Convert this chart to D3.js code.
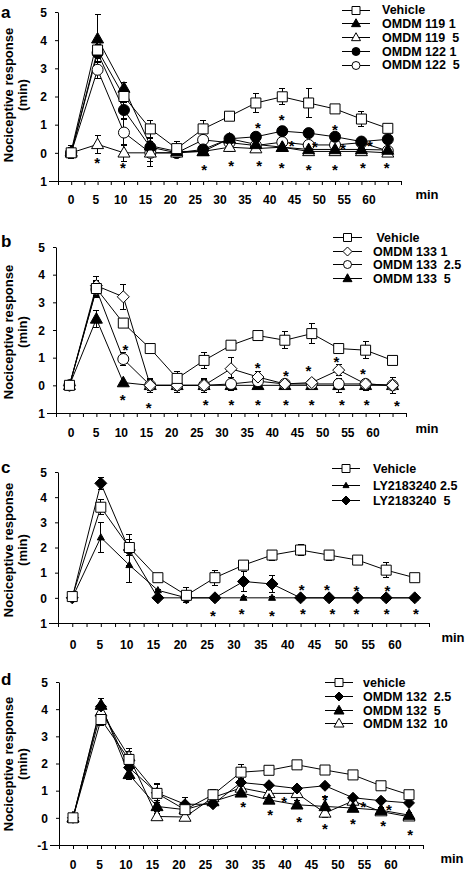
<!DOCTYPE html>
<html><head><meta charset="utf-8">
<script src="https://cdn.jsdelivr.net/npm/d3@7"></script>
<style>
body{margin:0;background:#fff}
svg{display:block}
text{font-family:"Liberation Sans",Arial,Helvetica,sans-serif;font-weight:bold;fill:#000;white-space:pre}
</style>
</head><body><svg id="c" width="470" height="874"></svg>
<script>
// ---------- shared ----------
const times = [0,5,10,15,20,25,30,35,40,45,50,55,60];
const xTickLabels = ["0","5","10","15","20","25","30","35","40","45","50","55","60"];
const xMinorTicks = [-2.5,0,2.5,5,7.5,10,12.5,15,17.5,20,22.5,25,27.5,30,32.5,35,37.5,40,42.5,45,47.5,50,52.5,55,57.5,60,62.5];
const yTickValues = [-1,0,1,2,3,4,5];
const yTickLabelsABC = ["1","0","1","2","3","4","5"];
const yTickLabelsD = ["-1","0","1","2","3","4","5"];

// ---------- panel a ----------
const aNames = ["Vehicle","OMDM 119 1","OMDM 119  5","OMDM 122 1","OMDM 122  5"];
const aVehicle    = [0, 3.65, 2.0, 0.85, 0.15, 0.85, 1.3, 1.77, 1.99, 1.77, 1.56, 1.2, 0.87];
const aVehicleErr = [0.2, 0.3, 0.2, 0.3, 0.25, 0.3, 0.12, 0.35, 0.28, 0.5, 0.06, 0.25, 0.06];
const a119_1      = [0.05, 4.05, 2.3, 0.25, 0.05, 0.05, 0.5, 0.3, 0.2, 0.12, 0.12, 0.12, 0.1];
const a119_1Err   = [0.2, 0.85, 0.2, 0.3, 0.1, 0.1, 0.15, 0.1, 0.1, 0.1, 0.1, 0.1, 0.1];
const a119_5      = [0, 0.3, 0, 0, 0, 0.05, 0.2, 0.15, 0.2, 0.05, 0.05, 0.05, 0];
const a119_5Err   = [0.15, 0.32, 0.3, 0.5, 0.1, 0.15, 0.15, 0.1, 0.1, 0.1, 0.1, 0.12, 0.05];
const a122_1      = [0, 3.55, 1.52, 0.2, 0, 0.12, 0.5, 0.57, 0.77, 0.7, 0.57, 0.4, 0.48];
const a122_1Err   = [0.15, 0.3, 0.3, 0.2, 0.1, 0.15, 0.15, 0.15, 0.15, 0.15, 0.1, 0.1, 0.1];
const a122_5      = [0, 2.95, 0.72, 0, 0, 0.46, 0.36, 0.26, 0.38, 0.28, 0.28, 0.36, 0.07];
const a122_5Err   = [0.2, 0.3, 0.45, 0.3, 0.1, 0.15, 0.15, 0.15, 0.1, 0.1, 0.1, 0.1, 0.1];
const aStars = [[4.9,-0.25],[9.8,-0.43],[25.2,-0.5],[30.3,-0.35],[35.6,-0.35],[39.9,-0.43],[45,-0.5],[50,-0.5],[55.3,-0.43],[59.8,-0.43],
                [35.4,0.99],[39.9,1.28],[50,0.92],[41.8,0.35],[46.2,0.32],[51.5,0.25],[56.6,0.35]];

// ---------- panel b ----------
const bNames = [" Vehicle","OMDM 133 1","OMDM 133  2.5","OMDM 133  5"];
const bVehicle    = [0, 3.5, 2.25, 1.33, 0.25, 0.9, 1.45, 1.8, 1.63, 1.87, 1.33, 1.27, 0.9];
const bVehicleErr = [0.15, 0.3, 0.15, 0.1, 0.25, 0.3, 0.1, 0.1, 0.3, 0.35, 0.1, 0.3, 0.1];
const b133_1      = [0, 3.6, 3.2, 0, 0, 0, 0.6, 0.3, 0.05, 0.1, 0.55, 0.05, 0];
const b133_1Err   = [0.1, 0.35, 0.45, 0.25, 0.25, 0.25, 0.4, 0.2, 0.1, 0.1, 0.2, 0.1, 0.3];
const b133_25     = [0, 3.47, 0.95, 0, 0, 0, 0.05, 0.15, 0.05, 0.05, 0.05, 0.05, 0];
const b133_25Err  = [0.1, 0.3, 0.25, 0.2, 0.2, 0.2, 0.25, 0.1, 0.1, 0.1, 0.1, 0.1, 0.1];
const b133_5      = [0, 2.4, 0.1, 0, 0, 0, 0, 0, 0, 0, 0, 0, 0];
const b133_5Err   = [0.1, 0.3, 0.05, 0.25, 0.25, 0.25, 0.2, 0.1, 0.1, 0.1, 0.25, 0.2, 0.3];
const bStars = [[10.4,1.38],[34.95,0.72],[40.2,0.43],[44.4,0.62],[49.6,0.94],[54.5,0.51],
                [9.9,-0.43],[14.7,-0.72],[25.3,-0.62],[30.1,-0.62],[35,-0.62],[40.2,-0.62],[45,-0.62],[50.6,-0.62],[55.2,-0.62],[60.8,-0.65]];

// ---------- panel c ----------
const cNames = ["Vehicle","LY2183240 2.5","LY2183240  5"];
const cVehicle    = [0.05, 3.6, 2.0, 0.8, 0.1, 0.8, 1.3, 1.7, 1.9, 1.7, 1.5, 1.1, 0.8];
const cVehicleErr = [0.1, 0.3, 0.3, 0.1, 0.3, 0.3, 0.1, 0.2, 0.2, 0.2, 0.1, 0.3, 0.1];
const cLY25       = [0, 2.4, 1.3, 0.3, 0, 0, 0, 0, 0, 0, 0, 0, 0];
const cLY25Err    = [0.05, 0.6, 0.7, 0.05, 0.05, 0.05, 0.05, 0.05, 0.05, 0.05, 0.05, 0.05, 0.05];
const cLY5        = [0, 4.55, 1.9, 0, 0, 0, 0.65, 0.55, 0, 0, 0, 0, 0];
const cLY5Err     = [0.05, 0.25, 0.6, 0.05, 0.05, 0.05, 0.4, 0.35, 0.05, 0.05, 0.05, 0.05, 0.05];
const cStars = [[40.2,0.44],[44.6,0.44],[49.8,0.4],[55.2,0.4],
                [24.65,-0.6],[29.7,-0.52],[35,-0.6],[40.4,-0.52],[45.6,-0.52],[49.8,-0.52],[55.1,-0.52],[60.2,-0.52]];

// ---------- panel d ----------
const dNames = ["vehicle","OMDM 132  2.5","OMDM 132  5","OMDM 132  10"];
const dVehicle    = [0, 3.62, 2.15, 0.9, 0.3, 0.85, 1.68, 1.75, 1.95, 1.76, 1.58, 1.18, 0.85];
const dVehicleErr = [0.1, 0.2, 0.3, 0.35, 0.2, 0.2, 0.3, 0.05, 0.1, 0.1, 0.05, 0.05, 0.1];
const d132_25     = [0, 4.1, 1.85, 0.92, 0.5, 0.5, 1.3, 1.2, 1.08, 1.18, 0.74, 0.63, 0.55];
const d132_25Err  = [0.05, 0.3, 0.2, 0.3, 0.25, 0.1, 0.15, 0.1, 0.1, 0.1, 0.1, 0.1, 0.1];
const d132_5      = [0, 4.15, 1.6, 0.42, 0.3, 0.6, 0.92, 0.66, 0.48, 0.42, 0.36, 0.28, 0.1];
const d132_5Err   = [0.05, 0.25, 0.2, 0.2, 0.15, 0.1, 0.15, 0.1, 0.15, 0.35, 0.1, 0.1, 0.1];
const d132_10     = [0, 3.9, 2.25, 0.05, 0.03, 0.75, 1.1, 0.9, 0.9, 0.18, 0.62, 0.23, 0.04];
const d132_10Err  = [0.05, 0.5, 0.3, 0.1, 0.05, 0.1, 0.1, 0.1, 0.1, 0.15, 0.1, 0.1, 0.1];
const dStars = [[30.4,0.51],[35.2,0.22],[37.7,0.7],[40.4,-0.04],[45,0.77],[45,-0.29],[50,-0.11],[51.8,0.51],[55.4,-0.18],[56.4,0.4],[60.2,-0.51]];

// ---------- drawing ----------
const svg = d3.select("#c");

function markerPath(kind, s) {
  const p = d3.path();
  if (kind === "square") { p.rect(-s/2, -s/2, s, s); }
  else if (kind === "circle") { p.moveTo(s/2, 0); p.arc(0, 0, s/2, 0, 2*Math.PI); }
  else if (kind === "triangle") { const h = s*0.88; p.moveTo(0, -h*0.6); p.lineTo(s/2, h*0.4); p.lineTo(-s/2, h*0.4); p.closePath(); }
  else if (kind === "diamond") { p.moveTo(0, -s/2); p.lineTo(s/2, 0); p.lineTo(0, s/2); p.lineTo(-s/2, 0); p.closePath(); }
  return p.toString();
}

function drawPanel(L, series, stars) {
  const g = svg.append("g");
  const x = d3.scaleLinear().domain([-2.5, 62.5]).range([L.left, L.right]);
  const y = d3.scaleLinear().domain([-1, 5]).range([L.bottom, L.top]);
  const xl = d3.scaleLinear().domain([0, 60]).range(L.labelRange);

  // y axis
  const ya = g.append("g").attr("transform", `translate(${L.left},0)`)
    .call(d3.axisLeft(y).tickValues(yTickValues).tickSize(3).tickSizeOuter(0).tickPadding(8)
      .tickFormat((d, i) => L.yLabels[i]));
  ya.attr("font-size", 12).attr("font-family", null);
  ya.selectAll("text").attr("dy", "0.36em");

  // x axis (minor ticks only)
  g.append("g").attr("transform", `translate(0,${L.bottom})`)
    .call(d3.axisBottom(x).tickValues(xMinorTicks).tickSize(4).tickSizeOuter(0).tickFormat(""));
  g.append("line").attr("x1", L.left - 9).attr("x2", L.left).attr("y1", Math.round(L.bottom) + 0.5).attr("y2", Math.round(L.bottom) + 0.5)
    .attr("stroke", "#000");

  // x tick labels
  g.append("g").selectAll("text").data(times).join("text")
    .attr("x", d => xl(d)).attr("y", L.labelBase).attr("text-anchor", "middle").attr("font-size", 12)
    .text((d, i) => xTickLabels[i]);
  g.append("text").attr("x", L.minX).attr("y", L.minBase).attr("text-anchor", "middle").attr("font-size", 13).text("min");

  // y title
  g.append("text").attr("transform", `translate(13,${L.titleCy}) rotate(-90)`).attr("text-anchor", "middle").attr("font-size", 13).text("Nociceptive response");
  g.append("text").attr("transform", `translate(26.5,${L.titleCy}) rotate(-90)`).attr("text-anchor", "middle").attr("font-size", 13).text("(min)");

  // panel letter
  g.append("text").attr("x", 1).attr("y", L.letterBase).attr("font-size", 17).text(L.letter);

  // lines + error bars
  const line = d3.line().x((d, i) => x(times[i])).y(d => y(d));
  series.forEach(s => {
    const eb = g.append("g").attr("stroke", "#000").attr("shape-rendering", "crispEdges");
    s.values.forEach((v, i) => {
      const cx = x(times[i]), e = s.errors[i];
      if (e <= 0) return;
      eb.append("line").attr("x1", cx).attr("x2", cx).attr("y1", y(v - e)).attr("y2", y(v + e));
      eb.append("line").attr("x1", cx - 3).attr("x2", cx + 3).attr("y1", y(v + e)).attr("y2", y(v + e));
      eb.append("line").attr("x1", cx - 3).attr("x2", cx + 3).attr("y1", y(v - e)).attr("y2", y(v - e));
    });
    g.append("path").datum(s.values).attr("d", line).attr("fill", "none").attr("stroke", "#000").attr("stroke-width", 1);
  });
  // markers (last series drawn first so the first series stays on top)
  series.slice().reverse().forEach(s => {
    g.append("g").selectAll("path").data(s.values).join("path")
      .attr("transform", (d, i) => `translate(${x(times[i])},${y(d)})`)
      .attr("d", markerPath(s.kind, s.size))
      .attr("fill", s.filled ? "#000" : "#fff").attr("stroke", "#000").attr("stroke-width", 1);
  });

  // stars
  g.append("g").selectAll("text").data(stars).join("text")
    .attr("x", d => x(d[0])).attr("y", d => y(d[1]) + 8).attr("text-anchor", "middle").attr("font-size", 15).text("*");

  // legend
  const lg = g.append("g");
  series.forEach((s, i) => {
    const ry = L.legRows[i];
    lg.append("line").attr("x1", L.legLine[0]).attr("x2", L.legLine[1]).attr("y1", Math.round(ry) + 0.5).attr("y2", Math.round(ry) + 0.5).attr("stroke", "#000");
    lg.append("path").attr("transform", `translate(${(L.legLine[0] + L.legLine[1]) / 2},${Math.round(ry) + 0.5})`)
      .attr("d", markerPath(s.kind, s.legSize)).attr("fill", s.filled ? "#000" : "#fff").attr("stroke", "#000");
    lg.append("text").attr("x", L.legText).attr("y", ry + 4.5).attr("font-size", 12.5).text(s.name);
  });
}

drawPanel(
  {left: 58, right: 401, top: 12, bottom: 181, labelRange: [71, 369], labelBase: 204, minX: 427, minBase: 199,
   titleCy: 95, letter: "a", letterBase: 18, yLabels: yTickLabelsABC,
   legLine: [342, 370], legText: 382, legRows: [9.5, 23, 37, 51, 64.5]},
  [
    {name: aNames[0], values: aVehicle, errors: aVehicleErr, kind: "square", filled: false, size: 10, legSize: 8},
    {name: aNames[1], values: a119_1, errors: a119_1Err, kind: "triangle", filled: true, size: 12, legSize: 9},
    {name: aNames[2], values: a119_5, errors: a119_5Err, kind: "triangle", filled: false, size: 12, legSize: 9},
    {name: aNames[3], values: a122_1, errors: a122_1Err, kind: "circle", filled: true, size: 11, legSize: 8},
    {name: aNames[4], values: a122_5, errors: a122_5Err, kind: "circle", filled: false, size: 11, legSize: 8}
  ], aStars);

drawPanel(
  {left: 56, right: 406, top: 247, bottom: 413, labelRange: [71, 373], labelBase: 437, minX: 427, minBase: 433,
   titleCy: 332, letter: "b", letterBase: 247, yLabels: yTickLabelsABC,
   legLine: [333, 362], legText: 373, legRows: [237, 251, 264, 278]},
  [
    {name: bNames[0], values: bVehicle, errors: bVehicleErr, kind: "square", filled: false, size: 10, legSize: 8},
    {name: bNames[1], values: b133_1, errors: b133_1Err, kind: "diamond", filled: false, size: 12, legSize: 9},
    {name: bNames[2], values: b133_25, errors: b133_25Err, kind: "circle", filled: false, size: 11, legSize: 8},
    {name: bNames[3], values: b133_5, errors: b133_5Err, kind: "triangle", filled: true, size: 12, legSize: 9}
  ], bStars);

drawPanel(
  {left: 58, right: 429, top: 472, bottom: 623, labelRange: [73, 395], labelBase: 649, minX: 453, minBase: 642,
   titleCy: 550, letter: "c", letterBase: 473, yLabels: yTickLabelsABC,
   legLine: [332, 360], legText: 373, legRows: [468, 485, 500]},
  [
    {name: cNames[0], values: cVehicle, errors: cVehicleErr, kind: "square", filled: false, size: 10, legSize: 8},
    {name: cNames[1], values: cLY25, errors: cLY25Err, kind: "triangle", filled: true, size: 7, legSize: 6},
    {name: cNames[2], values: cLY5, errors: cLY5Err, kind: "diamond", filled: true, size: 12, legSize: 9}
  ], cStars);

drawPanel(
  {left: 59, right: 423, top: 682, bottom: 845, labelRange: [73, 391], labelBase: 869, minX: 452, minBase: 863,
   titleCy: 764, letter: "d", letterBase: 685, yLabels: yTickLabelsD,
   legLine: [325, 353], legText: 363, legRows: [682, 696, 710, 723]},
  [
    {name: dNames[0], values: dVehicle, errors: dVehicleErr, kind: "square", filled: false, size: 10, legSize: 8},
    {name: dNames[1], values: d132_25, errors: d132_25Err, kind: "diamond", filled: true, size: 11, legSize: 9},
    {name: dNames[2], values: d132_5, errors: d132_5Err, kind: "triangle", filled: true, size: 12, legSize: 10},
    {name: dNames[3], values: d132_10, errors: d132_10Err, kind: "triangle", filled: false, size: 12, legSize: 10}
  ], dStars);
</script>
</body></html>
